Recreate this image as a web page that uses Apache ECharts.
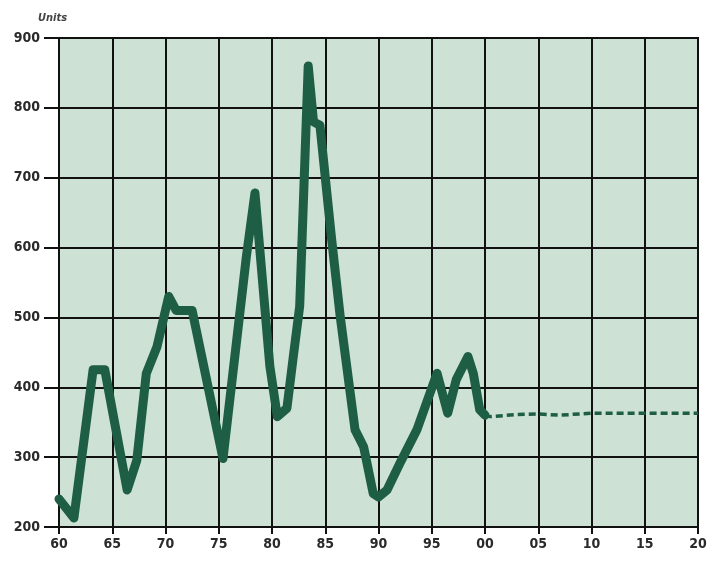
<!DOCTYPE html>
<html>
<head>
<meta charset="utf-8">
<script src="https://cdn.jsdelivr.net/npm/echarts@6/dist/echarts.min.js"></script>
<style>
html,body{margin:0;padding:0;background:#fff;}
#c{width:718px;height:563px;}
</style>
</head>
<body>
<div id="c"></div>
<script>
// Historical series (year, units)
const histYears = [1960, 1961.4, 1963.2, 1964.3, 1966.4, 1967.3, 1968.2, 1969.2, 1970.3, 1971.0, 1972.5, 1975.4, 1977.6, 1978.4, 1979.8, 1980.5, 1981.4, 1982.0, 1982.6, 1983.4, 1983.9, 1984.5, 1985.6, 1986.4, 1987.3, 1987.8, 1988.6, 1989.5, 1990.0, 1990.8, 1992.0, 1993.6, 1995.5, 1996.5, 1997.3, 1998.4, 1998.9, 1999.5, 2000.0];
const histValues = [240, 213, 425, 425, 253, 295, 420, 458, 530, 510, 510, 298, 588, 678, 430, 358, 370, 444, 516, 860, 780, 775, 612, 502, 397, 339, 315, 248, 243, 253, 291, 339, 420, 363, 411, 444, 420, 368, 360];
// Projection (dashed)
const projYears = [2000.0, 2000.5, 2003, 2005, 2007, 2010, 2015, 2020];
const projValues = [360, 358, 361, 362, 360, 363, 363, 363];
// Axis ticks
const xMin = 1960, xMax = 2020, xStep = 5;
const yMin = 200, yMax = 900, yStep = 100;
const axisTitle = 'Units';

const histData = histYears.map((y, i) => [y, histValues[i]]);
const projData = projYears.map((y, i) => [y, projValues[i]]);

const font = '"Liberation Sans Narrow","DejaVu Sans Condensed","Liberation Sans",sans-serif';
const chart = echarts.init(document.getElementById('c'));
chart.setOption({
  animation: false,
  backgroundColor: '#ffffff',
  title: {
    text: axisTitle, left: 33, top: 8,
    textStyle: {fontFamily: font, fontSize: 11, fontStyle: 'italic', fontWeight: 'bold', color: '#444'}
  },
  grid: {
    left: 59, right: 20, top: 38, bottom: 36,
    show: true, backgroundColor: '#cde1d4', borderColor: '#111', borderWidth: 2
  },
  xAxis: {
    type: 'value', min: xMin, max: xMax, interval: xStep,
    axisLine: {show: true, lineStyle: {color: '#111', width: 2}},
    axisTick: {show: true, length: 7, lineStyle: {color: '#111', width: 2}},
    splitLine: {show: true, lineStyle: {color: '#111', width: 2}},
    axisLabel: {
      margin: 10, fontFamily: font, fontSize: 14, fontWeight: 'bold', color: '#2a2a2a',
      formatter: v => String(Math.round(v) % 100).padStart(2, '0')
    }
  },
  yAxis: {
    type: 'value', min: yMin, max: yMax, interval: yStep,
    axisLine: {show: true, lineStyle: {color: '#111', width: 2}},
    axisTick: {show: true, length: 15, lineStyle: {color: '#111', width: 2}},
    splitLine: {show: true, lineStyle: {color: '#111', width: 2}},
    axisLabel: {margin: 19, fontFamily: font, fontSize: 14, fontWeight: 'bold', color: '#2a2a2a'}
  },
  series: [
    {
      type: 'line', data: histData, showSymbol: false, silent: true,
      lineStyle: {color: '#1d5e44', width: 9, join: 'round', cap: 'round'}
    },
    {
      type: 'line', data: projData, showSymbol: false, silent: true,
      lineStyle: {color: '#1d5e44', width: 3.5, type: [7, 4]}
    }
  ]
});
</script>
</body>
</html>
